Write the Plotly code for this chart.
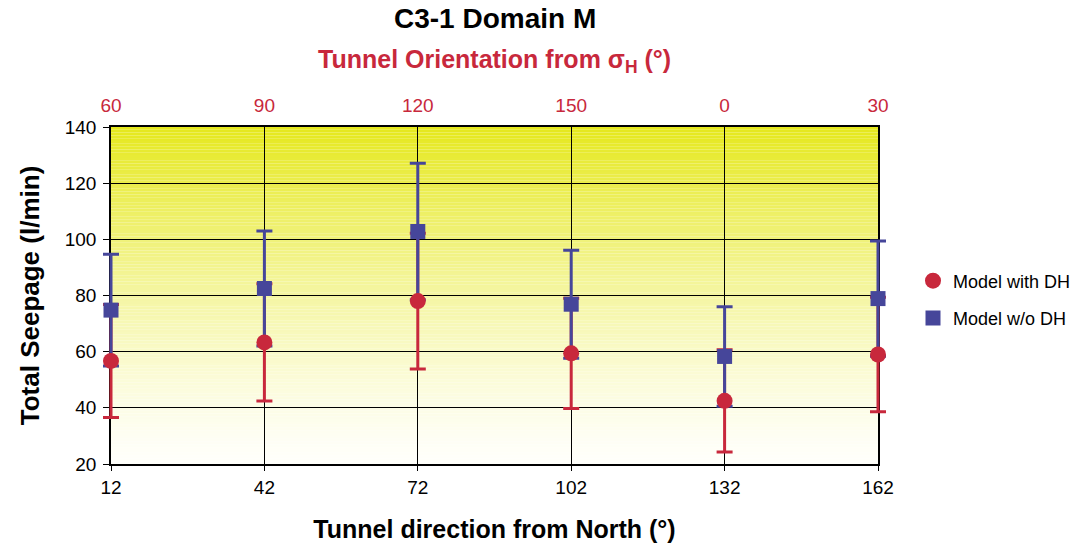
import plotly.graph_objects as go

# Tunnel direction from North (bottom axis) and orientation from sigma_H (top axis)
directions = [12, 42, 72, 102, 132, 162]
orientation_labels = ["60", "90", "120", "150", "0", "30"]

# Total seepage (l/min) with error half-widths
with_dh = [56.7, 63.3, 78.0, 59.4, 42.5, 59.0]
with_dh_err = [20.1, 20.9, 24.2, 19.6, 18.2, 20.4]
without_dh = [74.8, 82.5, 102.8, 76.9, 58.3, 78.9]
without_dh_err = [19.9, 20.5, 24.3, 19.2, 17.7, 20.5]

RED = "#C8283C"
BLUE = "#46469A"
FONT = "Arial, Liberation Sans, sans-serif"

W, H = 1077, 547
ML, MR, MT, MB = 91, 179, 127, 83          # paper margins
PLOT_L, PLOT_R = 111, 878                  # visible plot frame (px)
X_MIN, X_MAX = 12, 162
Y_MIN, Y_MAX = 20, 140

paper_w = W - ML - MR
dom0 = (PLOT_L - ML) / paper_w
dom1 = (PLOT_R - ML) / paper_w
units_per_px = (X_MAX - X_MIN) / (PLOT_R - PLOT_L)
# data layer spans the whole paper so markers and bars at the ends are not clipped
x3_range = [X_MIN - (PLOT_L - ML) * units_per_px,
            X_MAX + (W - MR - PLOT_R) * units_per_px]

fig = go.Figure()

# frame-holding trace on the visible axes
fig.add_trace(go.Scatter(
    x=directions, y=with_dh, mode="markers", showlegend=False, hoverinfo="skip",
    marker=dict(size=1, color="rgba(0,0,0,0)"),
))
fig.add_trace(go.Scatter(
    x=directions, y=with_dh, xaxis="x2", mode="markers", showlegend=False,
    hoverinfo="skip", marker=dict(size=1, color="rgba(0,0,0,0)"),
))

# error bars first, so that the markers sit on top of both series' bars
fig.add_trace(go.Scatter(
    x=directions, y=with_dh, xaxis="x3", yaxis="y2", mode="markers",
    showlegend=False, hoverinfo="skip",
    marker=dict(size=1, color="rgba(0,0,0,0)"),
    error_y=dict(type="data", array=with_dh_err, color=RED, thickness=3, width=8),
))
fig.add_trace(go.Scatter(
    x=directions, y=without_dh, xaxis="x3", yaxis="y2", mode="markers",
    showlegend=False, hoverinfo="skip",
    marker=dict(size=1, color="rgba(0,0,0,0)"),
    error_y=dict(type="data", array=without_dh_err, color=BLUE, thickness=3, width=8),
))
fig.add_trace(go.Scatter(
    x=directions, y=with_dh, xaxis="x3", yaxis="y2", mode="markers",
    name="Model with DH", legendgroup="a",
    marker=dict(symbol="circle", size=16, color=RED),
))
fig.add_trace(go.Scatter(
    x=directions, y=without_dh, xaxis="x3", yaxis="y2", mode="markers",
    name="Model w/o DH", legendgroup="b",
    marker=dict(symbol="square", size=15, color=BLUE),
))

# vertical yellow-to-white gradient behind the plot area
n_strips = 120
top_rgb = (229, 232, 28)
bottom_rgb = (255, 255, 250)
shapes = []
for i in range(n_strips):
    t = (i + 0.5) / n_strips
    f = t ** 1.35
    c = tuple(round(b + (tp - b) * f) for tp, b in zip(top_rgb, bottom_rgb))
    shapes.append(dict(
        type="rect", xref="x domain", yref="y domain", layer="below",
        x0=0, x1=1, y0=i / n_strips, y1=(i + 1) / n_strips,
        fillcolor="rgb(%d,%d,%d)" % c, line=dict(width=0),
    ))

fig.update_layout(
    width=W, height=H,
    margin=dict(l=ML, r=MR, t=MT, b=MB, autoexpand=False),
    paper_bgcolor="white", plot_bgcolor="rgba(0,0,0,0)",
    font=dict(family=FONT, size=19, color="black"),
    shapes=shapes,
    showlegend=True,
    legend=dict(x=(913 - ML) / paper_w, y=0.598, xanchor="left", yanchor="top",
                font=dict(size=18), traceorder="grouped", tracegroupgap=11,
                bgcolor="rgba(0,0,0,0)", itemwidth=30),
    xaxis=dict(
        domain=[dom0, dom1], anchor="y",
        range=[X_MIN, X_MAX], tickvals=directions,
        ticktext=[str(d) for d in directions],
        showgrid=True, gridcolor="black", gridwidth=1,
        showline=True, linecolor="black", linewidth=1.5, mirror=True,
        ticks="outside", ticklen=5, tickcolor="black", zeroline=False,
        tickfont=dict(size=19), automargin=False,
        title=dict(text="<b>Tunnel direction from North (°)</b>",
                   font=dict(size=25), standoff=24),
    ),
    xaxis2=dict(
        range=[X_MIN, X_MAX], overlaying="x", side="top", tickvals=directions,
        ticktext=orientation_labels, showgrid=False, ticks="", zeroline=False,
        tickfont=dict(size=19, color=RED), ticklabelstandoff=10, automargin=False,
    ),
    xaxis3=dict(domain=[0, 1], range=x3_range, anchor="y2", visible=False,
                fixedrange=True),
    yaxis=dict(
        anchor="x", range=[Y_MIN, Y_MAX], dtick=20, tick0=20,
        showgrid=True, gridcolor="black", gridwidth=1,
        showline=True, linecolor="black", linewidth=1.5, mirror=True,
        ticks="outside", ticklen=6, tickcolor="black", zeroline=False,
        tickfont=dict(size=19), ticklabelstandoff=3, automargin=False,
        title=dict(text="<b>Total Seepage (l/min)</b>", font=dict(size=26),
                   standoff=18),
    ),
    yaxis2=dict(anchor="x3", domain=[0, 1], range=[Y_MIN, Y_MAX],
                visible=False, fixedrange=True),
    annotations=[
        dict(text="<b>C3-1 Domain M</b>", xref="paper", yref="paper",
             x=0.5, y=1.0, yshift=109, xanchor="center", yanchor="middle",
             showarrow=False, font=dict(size=28, color="black")),
        dict(text="<b>Tunnel Orientation from σ<sub>H</sub> (°)</b>",
             xref="paper", yref="paper", x=0.5, y=1.0, yshift=66,
             xanchor="center", yanchor="middle", showarrow=False,
             font=dict(size=25, color=RED)),
    ],
)

fig.write_html("out.html")
